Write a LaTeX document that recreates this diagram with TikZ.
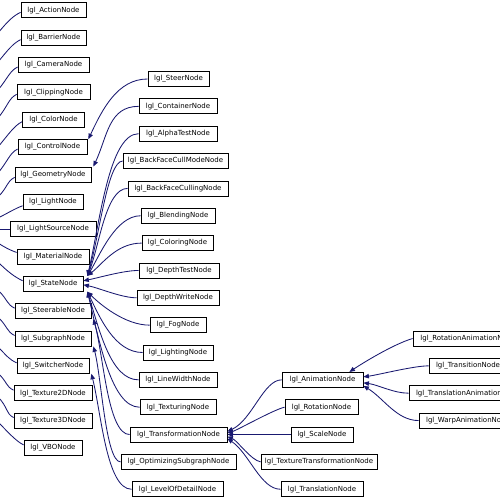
\documentclass[tikz,border=0pt]{standalone}
\usepackage{fontspec}
\setmainfont{DejaVu Sans}
\usetikzlibrary{arrows.meta}
\definecolor{navy}{RGB}{25,25,112}
\begin{document}
\begin{tikzpicture}[x=1pt,y=-1pt,
  box/.style={draw=black, line width=0.8pt, fill=white, inner sep=0pt,
    minimum height=15pt, font=\fontsize{7}{8}\selectfont},
  link/.style={draw=navy, line width=0.85pt},
  edge/.style={draw=navy, line width=0.85pt, -{Triangle[length=5.5pt,width=4.5pt]}}]
\path[use as bounding box] (0,0) rectangle (500,500);
\clip (0,0) rectangle (500,500);
% left column
\node[box, minimum width=65pt] (action) at (53.5,10.3) {lgl\_ActionNode};
\node[box, minimum width=65pt] (barrier) at (53.5,37.65) {lgl\_BarrierNode};
\node[box, minimum width=71pt] (camera) at (53.5,65) {lgl\_CameraNode};
\node[box, minimum width=73pt] (clipping) at (53.5,92.35) {lgl\_ClippingNode};
\node[box, minimum width=62pt] (color) at (53.5,119.7) {lgl\_ColorNode};
\node[box, minimum width=69pt] (control) at (52.5,147.05) {lgl\_ControlNode};
\node[box, minimum width=76pt] (geometry) at (53,174.4) {lgl\_GeometryNode};
\node[box, minimum width=60pt] (light) at (53,201.75) {lgl\_LightNode};
\node[box, minimum width=86pt] (lightsource) at (53,229.1) {lgl\_LightSourceNode};
\node[box, minimum width=72pt] (material) at (53,256.45) {lgl\_MaterialNode};
\node[box, minimum width=60pt] (state) at (53,283.8) {lgl\_StateNode};
\node[box, minimum width=76pt] (steerable) at (53,311.15) {lgl\_SteerableNode};
\node[box, minimum width=76pt] (subgraph) at (53,338.5) {lgl\_SubgraphNode};
\node[box, minimum width=72pt] (switcher) at (53,365.85) {lgl\_SwitcherNode};
\node[box, minimum width=78pt] (textwo) at (53,393.2) {lgl\_Texture2DNode};
\node[box, minimum width=78pt] (texthree) at (53,420.55) {lgl\_Texture3DNode};
\node[box, minimum width=58pt] (vbo) at (53,447.9) {lgl\_VBONode};
% second column
\node[box, minimum width=61pt] (steer) at (178.5,79) {lgl\_SteerNode};
\node[box, minimum width=78pt] (container) at (178,106.35) {lgl\_ContainerNode};
\node[box, minimum width=78pt] (alphatest) at (178,133.7) {lgl\_AlphaTestNode};
\node[box, minimum width=105pt] (bfcullmode) at (175.5,161.05) {lgl\_BackFaceCullModeNode};
\node[box, minimum width=100pt] (bfculling) at (178,188.4) {lgl\_BackFaceCullingNode};
\node[box, minimum width=74pt] (blending) at (178,215.75) {lgl\_BlendingNode};
\node[box, minimum width=71pt] (coloring) at (177.5,243.1) {lgl\_ColoringNode};
\node[box, minimum width=80pt] (depthtest) at (179,270.45) {lgl\_DepthTestNode};
\node[box, minimum width=82pt] (depthwrite) at (178,297.8) {lgl\_DepthWriteNode};
\node[box, minimum width=56pt] (fog) at (178,325.15) {lgl\_FogNode};
\node[box, minimum width=70pt] (lighting) at (178,352.5) {lgl\_LightingNode};
\node[box, minimum width=78pt] (linewidth) at (178,379.85) {lgl\_LineWidthNode};
\node[box, minimum width=76pt] (texturing) at (178,407.2) {lgl\_TexturingNode};
\node[box, minimum width=97pt] (transformation) at (178.5,434.55) {lgl\_TransformationNode};
\node[box, minimum width=115pt] (optimizing) at (178.5,461.9) {lgl\_OptimizingSubgraphNode};
\node[box, minimum width=91pt] (lod) at (177.5,489.25) {lgl\_LevelOfDetailNode};
% third column
\node[box, minimum width=81pt] (animation) at (322.5,379.85) {lgl\_AnimationNode};
\node[box, minimum width=73pt] (rotation) at (321.5,407.2) {lgl\_RotationNode};
\node[box, minimum width=62pt] (scale) at (322,434.55) {lgl\_ScaleNode};
\node[box, minimum width=116pt] (textransform) at (319,461.9) {lgl\_TextureTransformationNode};
\node[box, minimum width=82pt] (translation) at (322,489.25) {lgl\_TranslationNode};
% fourth column
\node[box, minimum width=110pt] (rotanim) at (468,338.5) {lgl\_RotationAnimationNode};
\node[box, minimum width=78pt] (transition) at (468,365.85) {lgl\_TransitionNode};
\node[box, minimum width=118pt] (transanim) at (468,393.2) {lgl\_TranslationAnimationNode};
\node[box, minimum width=98pt] (warp) at (468,420.55) {lgl\_WarpAnimationNode};
% free ends of the edges from the parent off the left side
\coordinate (sA) at (-2,33);
\coordinate (sB) at (-2,62);
\coordinate (sC) at (-2,90);
\coordinate (sD) at (-2,118);
\coordinate (sE) at (-2,147);
\coordinate (sF) at (-2,173);
\coordinate (sG) at (-2,197);
\coordinate (sH) at (-2,218);
\coordinate (sI) at (-2,229.1);
\coordinate (sJ) at (-2,243);
\coordinate (sK) at (-2,262);
\coordinate (sL) at (-2,290);
\coordinate (sM) at (-2,317);
\coordinate (sN) at (-2,347);
\coordinate (sO) at (-2,373);
\coordinate (sP) at (-2,397);
\coordinate (sQ) at (-2,422);
\draw[link] (sA) .. controls +(10,-12) and +(-8,4) .. ([yshift=-2pt]action.west);
\draw[link] (sB) .. controls +(10,-12) and +(-8,4) .. ([yshift=-2pt]barrier.west);
\draw[link] (sC) .. controls +(10,-12) and +(-8,4) .. ([yshift=-2pt]camera.west);
\draw[link] (sD) .. controls +(10,-12) and +(-8,4) .. ([yshift=-2pt]clipping.west);
\draw[link] (sE) .. controls +(10,-12) and +(-8,4) .. ([yshift=-2pt]color.west);
\draw[link] (sF) .. controls +(10,-12) and +(-8,4) .. ([yshift=-2pt]control.west);
\draw[link] (sG) .. controls +(10,-10) and +(-8,4) .. ([yshift=-3pt]geometry.west);
\draw[link] (sH) .. controls +(10,-5) and +(-8,3) .. ([yshift=-4pt]light.west);
\draw[link] (sI) -- (lightsource.west);
\draw[link] (sJ) .. controls +(8,5) and +(-8,-3) .. ([yshift=4pt]material.west);
\draw[link] (sK) .. controls +(10,10) and +(-8,-4) .. ([yshift=3pt]state.west);
\draw[link] (sL) .. controls +(10,10) and +(-8,-4) .. ([yshift=3pt]steerable.west);
\draw[link] (sM) .. controls +(10,10) and +(-8,-4) .. ([yshift=3pt]subgraph.west);
\draw[link] (sN) .. controls +(10,10) and +(-8,-4) .. ([yshift=3pt]switcher.west);
\draw[link] (sO) .. controls +(10,10) and +(-8,-4) .. ([yshift=3pt]textwo.west);
\draw[link] (sP) .. controls +(10,10) and +(-8,-4) .. ([yshift=3pt]texthree.west);
\draw[link] (sQ) .. controls +(10,10) and +(-8,-4) .. ([yshift=3pt]vbo.west);
% second column to left column
\draw[edge] (steer.west) .. controls +(-30,0) and +(14,-30) .. ([xshift=1pt]control.north east);
\draw[edge] (container.west) .. controls +(-30,0) and +(14,-30) .. ([xshift=2pt]geometry.north east);
\draw[edge] (alphatest.west) .. controls +(-30,0) and +(12,-50) .. ([xshift=4pt]state.north east);
\draw[edge] (bfcullmode.west) .. controls +(-15,0) and +(12,-40) .. ([xshift=4pt]state.north east);
\draw[edge] (bfculling.west) .. controls +(-22,0) and +(12,-30) .. ([xshift=4pt]state.north east);
\draw[edge] (blending.west) .. controls +(-25,0) and +(12,-20) .. ([xshift=4pt]state.north east);
\draw[edge] (coloring.west) .. controls +(-25,0) and +(15,-12) .. ([xshift=4pt]state.north east);
\draw[edge] (depthtest.west) .. controls +(-15,0) and +(15,-3) .. ([yshift=3pt]state.east);
\draw[edge] (depthwrite.west) .. controls +(-15,0) and +(15,3) .. ([yshift=-1pt]state.east);
\draw[edge] (fog.west) .. controls +(-25,0) and +(12,12) .. ([xshift=4pt]state.south east);
\draw[edge] (lighting.west) .. controls +(-28,0) and +(12,25) .. ([xshift=4pt]state.south east);
\draw[edge] (linewidth.west) .. controls +(-28,0) and +(12,38) .. ([xshift=4pt]state.south east);
\draw[edge] (texturing.west) .. controls +(-28,0) and +(12,50) .. ([xshift=4pt]state.south east);
\draw[edge] (transformation.west) .. controls +(-22,0) and +(10,35) .. ([xshift=2pt]steerable.south east);
\draw[edge] (optimizing.west) .. controls +(-15,0) and +(8,30) .. ([xshift=2pt]subgraph.south east);
\draw[edge] (lod.west) .. controls +(-25,0) and +(10,40) .. ([xshift=2pt]switcher.south east);
% third column to transformation
\draw[edge] (animation.west) .. controls +(-18,0) and +(25,-12) .. ([yshift=3pt]transformation.east);
\draw[edge] (rotation.west) .. controls +(-10,2) and +(10,-3) .. ([yshift=1.5pt]transformation.east);
\draw[edge] (scale.west) -- (transformation.east);
\draw[edge] (textransform.west) .. controls +(-10,-2) and +(10,4) .. ([yshift=-2pt]transformation.east);
\draw[edge] (translation.west) .. controls +(-20,0) and +(22,15) .. ([yshift=-4pt]transformation.east);
% fourth column to animation
\draw[edge] (rotanim.west) .. controls +(-20,6) and +(12,-8) .. ([xshift=-14pt]animation.north east);
\draw[edge] (transition.west) .. controls +(-15,0) and +(15,-2) .. ([yshift=3pt]animation.east);
\draw[edge] (transanim.west) .. controls +(-15,0) and +(15,2) .. ([yshift=-3pt]animation.east);
\draw[edge] (warp.west) .. controls +(-22,0) and +(20,12) .. ([yshift=-6pt]animation.east);
\end{tikzpicture}
\end{document}
